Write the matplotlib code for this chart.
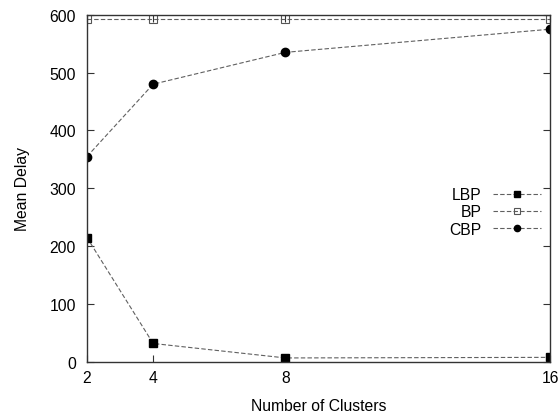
import matplotlib.pyplot as plt
import numpy as np

plt.rcParams['font.family'] = ['Liberation Sans', 'DejaVu Sans']

# data
clusters = [2, 4, 8, 16]
lbp = [215, 32, 7, 8]
bp = [592, 592, 592, 592]
cbp = [355, 480, 535, 575]

fs = 11.3
fig = plt.figure(figsize=(5.59, 4.14), dpi=100)
ax = fig.add_axes([0.1556, 0.1232, 0.8284, 0.8388])

line_col = '#606060'
dash = (0, (4, 2))
ax.plot(clusters, lbp, linestyle=dash, color=line_col, linewidth=0.8,
        marker='s', markersize=5.5, markerfacecolor='black', markeredgecolor='black', label='LBP')
ax.plot(clusters, bp, linestyle=dash, color=line_col, linewidth=0.8,
        marker='s', markersize=5.5, markerfacecolor='none', markeredgecolor='#555555',
        markeredgewidth=0.8, label='BP')
ax.plot(clusters, cbp, linestyle=dash, color=line_col, linewidth=0.8,
        marker='o', markersize=6, markerfacecolor='black', markeredgecolor='black', label='CBP')

ax.set_xlim(2, 16)
ax.set_ylim(0, 600)
ax.set_xticks(clusters)
ax.set_yticks(np.arange(0, 601, 100))
ax.tick_params(direction='in', length=5, width=0.8, labelsize=fs, color='#333333',
               top=True, right=True)
ax.tick_params(axis='y', pad=8)
ax.tick_params(axis='x', pad=6)
for s in ax.spines.values():
    s.set_color('#333333')
    s.set_linewidth(1.0)
ax.set_xlabel('Number of Clusters', fontsize=fs, labelpad=9)
ax.set_ylabel('Mean Delay', fontsize=fs, labelpad=14)

ax.legend(loc='center right', bbox_to_anchor=(0.998, 0.432), frameon=False,
          markerfirst=False, numpoints=1, handlelength=3.1, labelspacing=0.15,
          handletextpad=0.7, fontsize=fs, borderpad=0, markerscale=0.75)

plt.savefig('out.png', dpi=100)
